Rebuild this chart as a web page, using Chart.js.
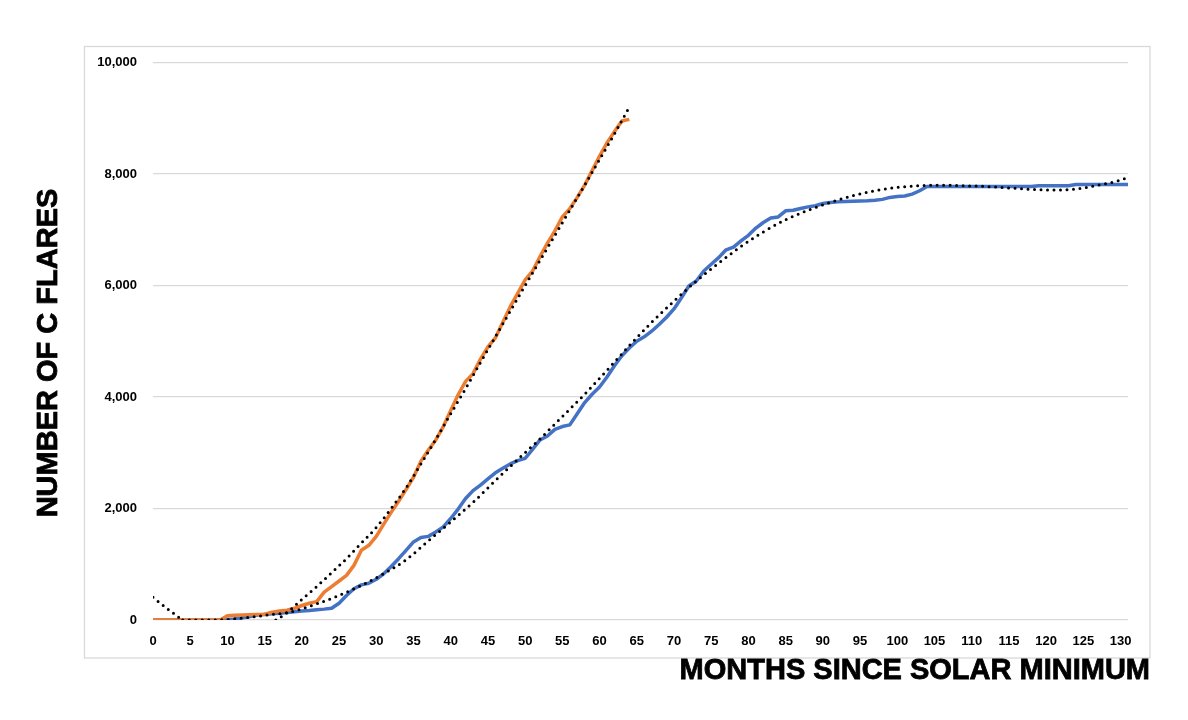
<!DOCTYPE html>
<html>
<head>
<meta charset="utf-8">
<script src="https://cdn.jsdelivr.net/npm/chart.js@4"></script>
<style>
  html, body { margin: 0; padding: 0; background: #ffffff; }
  #c { display: block; }
</style>
</head>
<body>
<canvas id="c" width="1188" height="720" style="width:1188px;height:720px"></canvas>
<script>
// ---- Data ----
const xTickLabels = [0, 5, 10, 15, 20, 25, 30, 35, 40, 45, 50, 55, 60, 65, 70, 75, 80, 85, 90, 95, 100, 105, 110, 115, 120, 125, 130];
const yTickLabels = [0, 2000, 4000, 6000, 8000, 10000];

// Cumulative C flares, blue series, month 0..131
const blueValues = [
  0, 0, 0, 0, 0, 0, 0, 0, 0, 0,
  10, 20, 40, 60, 90, 100, 110, 120, 135, 150,
  160, 170, 185, 195, 210, 300, 440, 560, 630, 660,
  730, 830, 960, 1100, 1250, 1400, 1480, 1500, 1580, 1670,
  1820, 1990, 2180, 2320, 2420, 2530, 2640, 2720, 2800, 2860,
  2900, 3060, 3230, 3300, 3420, 3470, 3500, 3700, 3900, 4050,
  4180, 4360, 4560, 4740, 4880, 5000, 5080, 5180, 5300, 5430,
  5580, 5780, 5990, 6080, 6260, 6380, 6500, 6640, 6690, 6800,
  6900, 7030, 7130, 7210, 7230, 7340, 7350, 7380, 7410, 7430,
  7470, 7490, 7500, 7505, 7510, 7515, 7520, 7530, 7545, 7580,
  7595, 7605, 7640, 7700, 7775, 7775, 7775, 7775, 7775, 7775,
  7775, 7775, 7775, 7775, 7775, 7775, 7775, 7775, 7775, 7790,
  7790, 7790, 7790, 7790, 7810, 7810, 7810, 7810, 7810, 7810,
  7810, 7810
];

// Cumulative C flares, orange series, month 0..64
const orangeValues = [
  0, 0, 0, 0, 0, 0, 0, 0, 0, 0,
  75, 85, 90, 95, 100, 105, 140, 160, 175, 210,
  260, 300, 330, 500, 600, 700, 800, 980, 1250, 1340,
  1500, 1720, 1930, 2130, 2340, 2560, 2850, 3050, 3230, 3470,
  3760, 4040, 4280, 4420, 4680, 4900, 5060, 5340, 5620, 5860,
  6100, 6260, 6520, 6760, 6980, 7230, 7380, 7580, 7800, 8060,
  8320, 8560, 8760, 8950, 8980
];

// Dotted trend lines (values read at sample months)
const trendOrangeMonths = [0, 1, 2, 3, 3.9, 10, 16.5, 18, 20, 22, 24, 26, 28, 30, 32, 34, 36, 38, 40, 42, 44, 46, 48, 50, 52, 54, 56, 58, 60, 62, 64];
const trendOrangeValues = [407, 300, 195, 95, 0, null, 0, 130, 370, 600, 850, 1100, 1380, 1660, 2000, 2370, 2800, 3240, 3700, 4150, 4620, 5080, 5540, 6000, 6450, 6900, 7350, 7800, 8260, 8720, 9200];

const trendBlueMonths = [4, 6, 8, 10, 13, 16, 18, 20, 22, 25, 28, 31, 34, 37, 40, 43, 46, 49, 52, 55, 58, 61, 64, 67, 70, 73, 76, 79, 82, 85, 88, 91, 94, 97, 100, 103, 106, 109, 112, 115, 118, 121, 124, 127, 130, 131];
const trendBlueValues = [0, 0, 0, 10, 48, 100, 130, 200, 290, 440, 620, 830, 1080, 1420, 1760, 2110, 2500, 2880, 3250, 3650, 4050, 4480, 4920, 5340, 5720, 6080, 6400, 6700, 6960, 7180, 7350, 7490, 7610, 7700, 7760, 7790, 7800, 7790, 7775, 7750, 7725, 7712, 7730, 7800, 7890, 7940];

const blueMonths = blueValues.map((_, i) => i);
const orangeMonths = orangeValues.map((_, i) => i);

const pts = (xs, ys) => xs.map((x, i) => ({ x: x, y: ys[i] }));

const TITLE_FONT = 'bold 29px "Liberation Sans", Arial, sans-serif';
const TICK_FONT = { family: '"Liberation Sans", Arial, sans-serif', size: 13, weight: 'bold' };

const framePlugin = {
  id: 'frame',
  beforeDraw(chart) {
    const ctx = chart.ctx;
    ctx.save();
    ctx.fillStyle = '#ffffff';
    ctx.fillRect(0, 0, chart.width, chart.height);
    ctx.strokeStyle = '#d9d9d9';
    ctx.lineWidth = 1.3;
    ctx.strokeRect(84.5, 46.5, 1065.5, 611.5);
    ctx.restore();
  },
  afterDraw(chart) {
    const ctx = chart.ctx;
    ctx.save();
    ctx.fillStyle = '#000000';
    ctx.strokeStyle = '#000000';
    ctx.lineWidth = 0.8;
    ctx.font = TITLE_FONT;
    // x axis title
    ctx.textAlign = 'right';
    ctx.textBaseline = 'alphabetic';
    ctx.fillText('MONTHS SINCE SOLAR MINIMUM', 1150, 679);
    ctx.strokeText('MONTHS SINCE SOLAR MINIMUM', 1150, 679);
    // y axis title
    ctx.translate(48.5, 353);
    ctx.rotate(-Math.PI / 2);
    ctx.textAlign = 'center';
    ctx.textBaseline = 'middle';
    ctx.fillText('NUMBER OF C FLARES', 0, 0);
    ctx.strokeText('NUMBER OF C FLARES', 0, 0);
    ctx.restore();
  }
};

const dotted = {
  borderColor: '#000000',
  borderWidth: 3,
  borderDash: [0, 6.5],
  borderCapStyle: 'round',
  pointRadius: 0,
  fill: false,
  spanGaps: false,
  cubicInterpolationMode: 'monotone'
};

new Chart(document.getElementById('c'), {
  type: 'line',
  data: {
    datasets: [
      Object.assign({ label: 'Trend (orange)', data: pts(trendOrangeMonths, trendOrangeValues) }, dotted),
      Object.assign({ label: 'Trend (blue)', data: pts(trendBlueMonths, trendBlueValues) }, dotted),
      {
        label: 'Orange',
        data: pts(orangeMonths, orangeValues),
        borderColor: '#ED7D31',
        borderWidth: 3.5,
        pointRadius: 0,
        tension: 0,
        borderJoinStyle: 'round',
        fill: false
      },
      {
        label: 'Blue',
        data: pts(blueMonths, blueValues),
        borderColor: '#4472C4',
        borderWidth: 3.5,
        pointRadius: 0,
        tension: 0,
        borderJoinStyle: 'round',
        fill: false
      }
    ]
  },
  options: {
    responsive: false,
    animation: false,
    events: [],
    layout: { padding: { left: 0, right: 60, top: 62.5, bottom: 0 } },
    plugins: {
      legend: { display: false },
      tooltip: { enabled: false },
      title: { display: false }
    },
    scales: {
      x: {
        type: 'linear',
        min: 0,
        max: 131,
        afterBuildTicks: (s) => { s.ticks = xTickLabels.map(v => ({ value: v })); },
        afterFit: (s) => { s.height = 100; },
        grid: { display: false, drawTicks: false },
        border: { display: false },
        ticks: {
          padding: 14,
          color: '#000000',
          font: TICK_FONT,
          maxRotation: 0,
          autoSkip: false,
          callback: (v) => String(v)
        }
      },
      y: {
        type: 'linear',
        min: 0,
        max: 10000,
        afterBuildTicks: (s) => { s.ticks = yTickLabels.map(v => ({ value: v })); },
        afterFit: (s) => { s.width = 153; },
        grid: { color: '#d9d9d9', lineWidth: 1.3, drawTicks: false },
        border: { display: false },
        ticks: {
          padding: 16,
          color: '#000000',
          font: TICK_FONT,
          callback: (v) => Number(v).toLocaleString('en-US')
        }
      }
    }
  },
  plugins: [framePlugin]
});
</script>
</body>
</html>
